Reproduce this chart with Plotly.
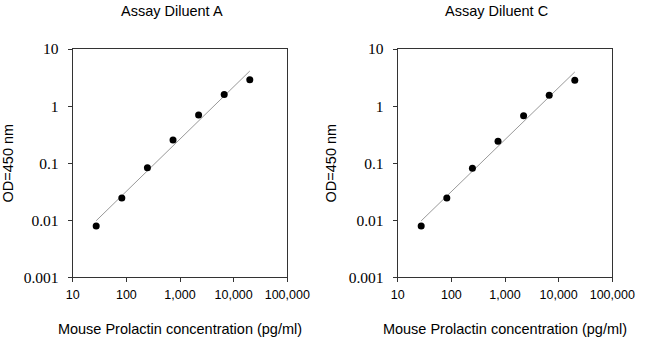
import numpy as np
import plotly.graph_objects as go

conc = [27.4, 82.3, 247, 741, 2222, 6667, 20000]
od_a = [0.0079, 0.0246, 0.083, 0.254, 0.695, 1.60, 2.89]
od_c = [0.0079, 0.0246, 0.0817, 0.243, 0.676, 1.54, 2.83]
titles = ["Assay Diluent A", "Assay Diluent C"]
x_tickvals = [10, 100, 1000, 10000, 100000]
x_ticktext = ["10", "100", "1,000", "10,000", "100,000"]
y_tickvals = [0.001, 0.01, 0.1, 1, 10]
y_ticktext = ["0.001", "0.01", "0.1", "1", "10"]

W, H = 650, 337
fig = go.Figure()

panels = [(od_a, 72.7), (od_c, 397.7)]
plot_w = 214.6
top, bottom = 49, 277.3

for i, (od, left) in enumerate(panels):
    xa = "x" if i == 0 else "x2"
    ya = "y" if i == 0 else "y2"
    lx = np.log10(conc)
    ly = np.log10(od)
    slope, inter = np.polyfit(lx, ly, 1)
    fx = np.array([lx[0], lx[-1]])
    fy = slope * fx + inter
    fig.add_trace(go.Scatter(x=10 ** fx, y=10 ** fy, mode="lines",
                             line=dict(color="#999999", width=1),
                             xaxis=xa, yaxis=ya, showlegend=False, hoverinfo="skip"))
    fig.add_trace(go.Scatter(x=conc, y=od, mode="markers",
                             marker=dict(color="black", size=7),
                             xaxis=xa, yaxis=ya, showlegend=False))
    d0 = left / W
    d1 = (left + plot_w) / W
    axcommon = dict(showline=True, linecolor="#333333", linewidth=1, mirror=True,
                    ticks="outside", ticklen=4, tickcolor="#333333", showgrid=False,
                    zeroline=False, automargin=False)
    xkey = "xaxis" if i == 0 else "xaxis2"
    ykey = "yaxis" if i == 0 else "yaxis2"
    fig.update_layout(**{
        xkey: dict(type="log", range=[1, 5], domain=[d0, d1], anchor=ya,
                   tickvals=x_tickvals, ticktext=x_ticktext, ticklabelstandoff=2,
                   tickfont=dict(family="Liberation Sans", size=12.5, color="black"),
                   title=dict(text="Mouse Prolactin concentration (pg/ml)",
                              font=dict(family="Liberation Sans", size=14.5, color="black"),
                              standoff=22),
                   **axcommon),
        ykey: dict(type="log", range=[-3, 1], domain=[1 - bottom / H, 1 - top / H], anchor=xa,
                   tickvals=y_tickvals, ticktext=y_ticktext, ticklabelstandoff=6,
                   tickfont=dict(family="Liberation Serif", size=15.5, color="black"),
                   title=dict(text="OD=450 nm",
                              font=dict(family="Liberation Sans", size=14.5, color="black"),
                              standoff=8),
                   **axcommon),
    })
    fig.add_annotation(text=titles[i], x=(left + 99) / W, y=1 - 11 / H, xref="paper", yref="paper",
                       showarrow=False, xanchor="center", yanchor="middle",
                       font=dict(family="Liberation Sans", size=14.5, color="black"))

fig.update_layout(width=W, height=H, margin=dict(l=0, r=0, t=0, b=0),
                  plot_bgcolor="white", paper_bgcolor="white")
fig.write_html("out.html")
